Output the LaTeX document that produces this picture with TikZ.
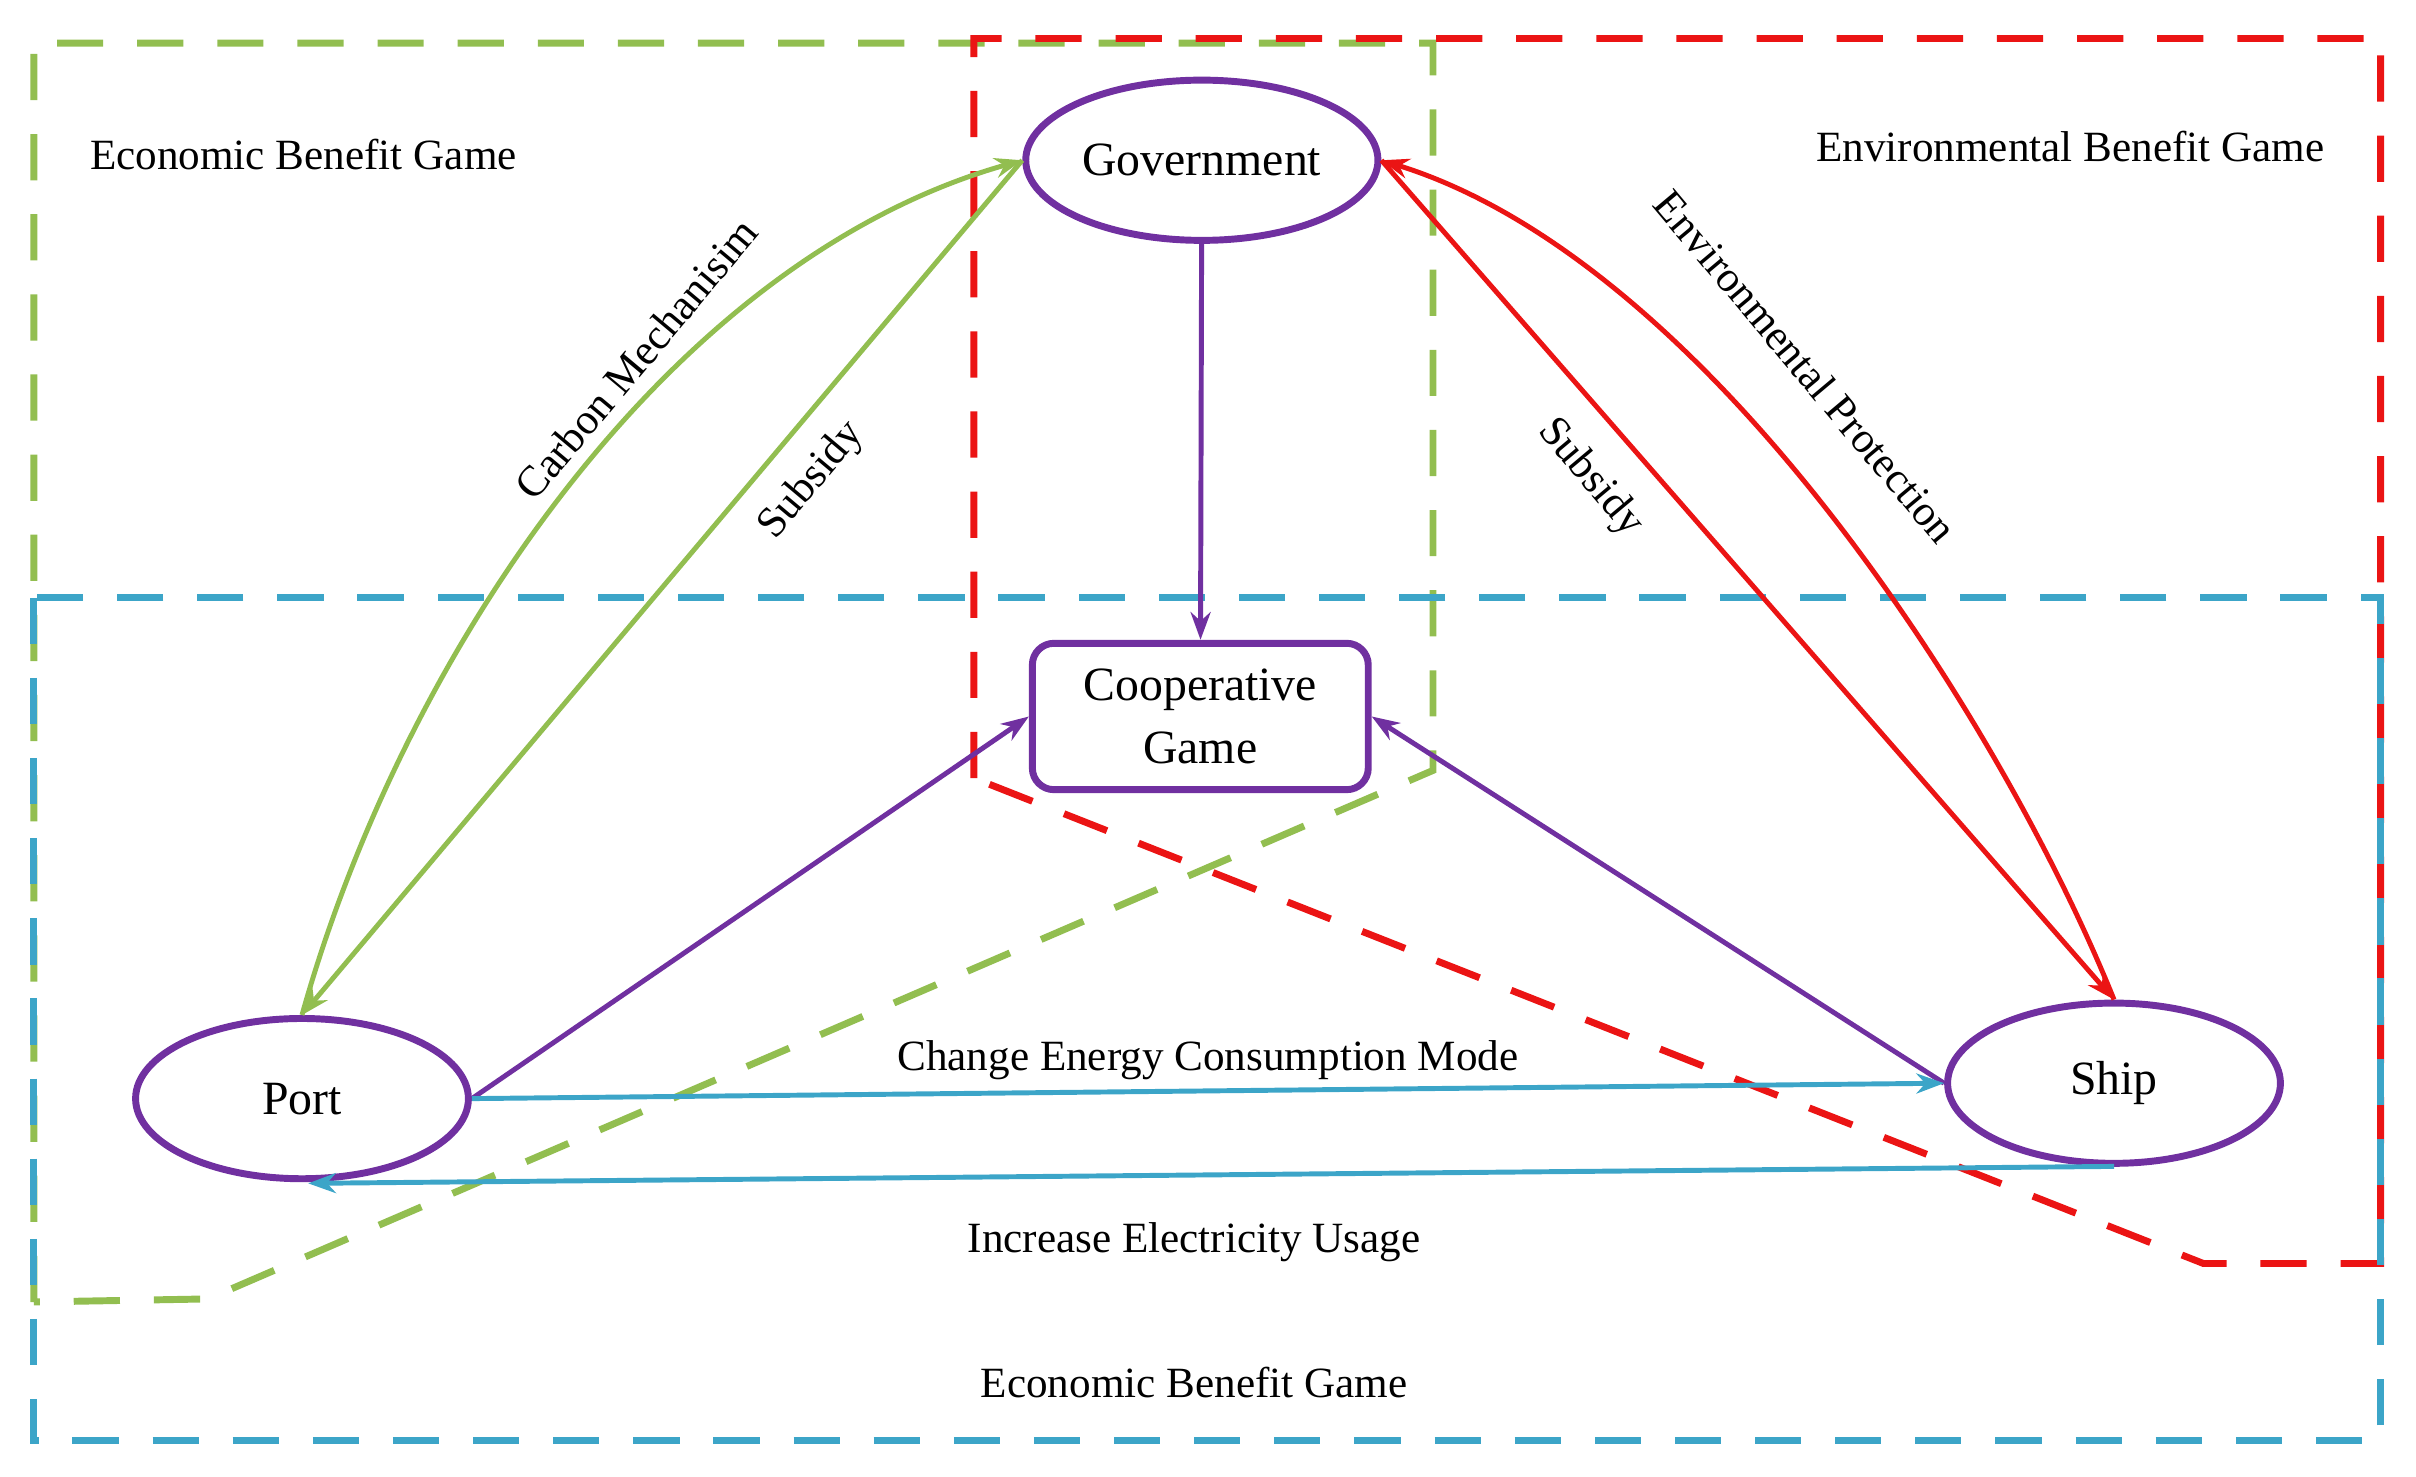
\documentclass[tikz,border=0pt]{standalone}
\usepackage{fontspec}
\setmainfont{Liberation Serif}
\usetikzlibrary{shapes.geometric,arrows.meta}
\definecolor{gr}{RGB}{146,190,80}
\definecolor{rd}{RGB}{235,20,20}
\definecolor{bl}{RGB}{60,165,200}
\definecolor{pu}{RGB}{112,48,160}
\begin{document}
\begin{tikzpicture}[x=1pt,y=-1pt,
 box/.style={line width=4.5pt,dash pattern=on 30pt off 22pt},
 ell/.style={ellipse,draw=pu,line width=4.5pt,minimum width=216pt,minimum height=104pt,font=\fontsize{31}{34}\selectfont},
 lab/.style={font=\fontsize{28}{32}\selectfont},
 arr/.style={line width=3.2pt,-{Stealth[length=18pt,width=13pt]}}]
\useasboundingbox (0,0) rectangle (1568,958);
\draw[box,gr] (22,845) -- (22,28) -- (930,28) -- (930,500) -- (135,843) -- cycle;
\draw[box,rd] (632,505) -- (632,25) -- (1545,25) -- (1545,820) -- (1430,820) -- cycle;
\draw[box,bl] (22,388) rectangle (1545,935);
\node[ell] (gov) at (780,104) {Government};
\node[ell] (port) at (196,713) {Port};
\node[ell] (ship) at (1372,703) {Ship};
\node[draw=pu,line width=4.5pt,rounded corners=14pt,minimum width=218pt,minimum height=95pt,align=center,font=\fontsize{31}{41}\selectfont] (coop) at (779,465) {Cooperative\\Game};
\node[lab,anchor=west] (t1) at (55,100) {Economic Benefit Game};
\node[lab,anchor=east] (t2) at (1512,95) {Environmental Benefit Game};
\node[lab] (t3) at (775,897) {Economic Benefit Game};
\draw[arr,pu] (gov) -- (coop);
\draw[arr,pu] (port.east) -- (coop.west);
\draw[arr,pu] (ship.west) -- (coop.east);
\draw[arr,bl] (port.east) -- node[lab,above=2pt,black]{Change Energy Consumption Mode} (ship.west);
\coordinate (s1) at (1372,757);
\coordinate (p1) at (200,768);
\draw[arr,bl] (s1) -- (p1);
\node[lab] (t4) at (775,806) {Increase Electricity Usage};
\draw[arr,gr] (port.north) .. controls (260,430) and (430,170) .. (gov.west);
\draw[arr,gr] (gov.west) -- (port.north);
\draw[arr,rd] (ship.north) .. controls (1300,470) and (1110,170) .. (gov.east);
\draw[arr,rd] (gov.east) -- (ship.north);
\node[lab,rotate=50] (c1) at (413,233) {Carbon Mechanisim};
\node[lab,rotate=50] (c2) at (527,312) {Subsidy};
\node[lab,rotate=-50] (c3) at (1172,238) {Environmental Protection};
\node[lab,rotate=-50] (c4) at (1032,310) {Subsidy};
\end{tikzpicture}
\end{document}
